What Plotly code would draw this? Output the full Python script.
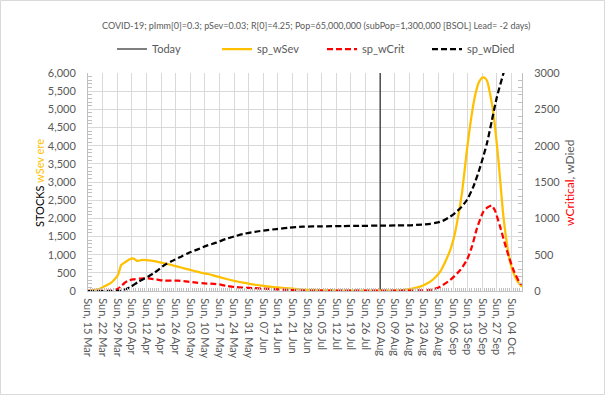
import plotly.graph_objects as go
import pandas as pd

# ---------------- data ----------------
BASE_DATE = "2020-03-15"          # day 0 of the day offsets below
END_DATE = "2020-10-09"
TODAY_DATE = "2020-08-02"
TITLE = ("COVID-19; pImm[0]=0.3; pSev=0.03; R[0]=4.25; Pop=65,000,000 "
         "(subPop=1,300,000 [BSOL] Lead= -2 days)")

# sp_wSev (left axis)
sev_day = [0, 3, 6, 9, 11, 13, 14.4, 15.9, 17.5, 20, 21.5, 22.5, 23.6, 25.5, 28,
           30.3, 33, 36.7, 40, 43, 47, 51, 54, 57.4, 60, 62.2, 66.4, 70, 74.3, 78,
           82.3, 86, 90.3, 94, 98.2, 103, 108, 114, 120, 130, 140, 146, 150, 154,
           157, 159.2, 162, 164, 166.5, 168.8, 171, 173.6, 175.3, 176.8, 179.2,
           181.6, 184, 185.6, 187.1, 188.5, 189.5, 190.5, 191.4, 192.8, 194.3,
           196.7, 199.1, 201.5, 203, 204.7, 206.3, 207.9]
sev_val = [0, 25, 70, 160, 225, 340, 440, 716, 780, 872, 900, 870, 826, 853, 850,
           835, 810, 761, 715, 670, 610, 550, 505, 468, 430, 394, 330, 280, 229, 190,
           156, 125, 101, 80, 64, 40, 28, 18, 12, 8, 8, 12, 25, 50,
           85, 120, 190, 257, 380, 532, 780, 1128, 1450, 1862, 2688,
           3880, 4890, 5400, 5716, 5850, 5880, 5850, 5760, 5400, 4890,
           3605, 2046, 1037, 650, 394, 230, 120]

# sp_wCrit (right axis)
crit_day = [0, 8, 11, 13, 14.4, 16, 17.5, 19.1, 21.5, 25, 28.7, 30.5, 32.7, 36.7,
            43, 47.8, 52, 55.8, 61.4, 64, 66.4, 70, 74.3, 80, 86, 90.3, 95, 101,
            110, 130, 150, 158, 164, 168.8, 173.6, 178.4, 181.6, 184, 186.4, 189.5,
            191.5, 193.5, 195, 197.5, 200.7, 203.9, 207.1, 207.9]
crit_val = [0, 2, 6, 15, 30, 70, 110, 138, 160, 170, 174, 168, 160, 142,
            142, 128, 115, 105, 96, 85, 69, 55, 46, 38, 30, 23, 15, 8,
            5, 4, 4, 8, 14, 60, 151, 289, 427, 610, 862, 1092,
            1150, 1175, 1110, 885, 564, 289, 105, 90]

# sp_wDied (right axis)
died_day = [0, 14, 15.8, 18, 20.7, 24, 28.7, 32, 36.7, 40, 44.6, 48, 52.6, 57,
            61.4, 66, 70, 74.3, 80, 85, 90.3, 96, 103, 112, 122, 130, 140, 148,
            154, 160, 164, 167, 170, 173.6, 176, 178.4, 181.6, 184.7, 188, 191.2,
            193.6, 196, 199.1, 200.5]
died_val = [0, 0, 3, 25, 60, 125, 197, 255, 358, 410, 472, 520, 573, 625,
            665, 715, 750, 784, 815, 835, 853, 870, 885, 890, 894, 897, 899, 902,
            904, 915, 925, 940, 965, 1023, 1075, 1138, 1252, 1436, 1711, 2032,
            2353, 2674, 2995, 3150]

LEFT_MAX, RIGHT_MAX = 6000, 3000

# ---------------- geometry ----------------
W, H = 605, 395
PL, PR, PT, PB = 88, 522, 73, 291   # plot area in pixels


def px(xp):
    return (xp - PL) / (PR - PL)


def py(yp):
    return (PB - yp) / (PB - PT)


base = pd.Timestamp(BASE_DATE)


def to_dates(days):
    return [base + pd.Timedelta(days=d) for d in days]


GREY_TXT = "#595959"
FONT = "Lato"

fig = go.Figure()
fig.add_trace(go.Scatter(x=[TODAY_DATE, TODAY_DATE], y=[0, LEFT_MAX], mode="lines",
                         name="Today", line=dict(color="black", width=1)))
fig.add_trace(go.Scatter(x=to_dates(sev_day), y=sev_val, mode="lines", name="sp_wSev",
                         line=dict(color="#FFC000", width=2.25, shape="spline",
                                   smoothing=0.6)))
fig.add_trace(go.Scatter(x=to_dates(crit_day), y=crit_val, mode="lines", name="sp_wCrit",
                         yaxis="y2",
                         line=dict(color="#FF0000", width=2.25, dash="6px,3px",
                                   shape="spline", smoothing=0.6)))
fig.add_trace(go.Scatter(x=to_dates(died_day), y=died_val, mode="lines", name="sp_wDied",
                         yaxis="y2",
                         line=dict(color="black", width=2.25, dash="6px,3px",
                                   shape="spline", smoothing=0.6)))

axis_font = dict(family=FONT, size=11, color=GREY_TXT)

fig.update_layout(
    width=W, height=H,
    margin=dict(l=PL, r=W - PR, t=PT, b=H - PB, pad=0),
    paper_bgcolor="white", plot_bgcolor="white",
    font=dict(family=FONT, size=11, color=GREY_TXT),
    showlegend=True,
    legend=dict(orientation="h", x=px(322), xanchor="center", y=py(49), yanchor="middle",
                font=dict(family=FONT, size=11, color=GREY_TXT),
                bgcolor="rgba(0,0,0,0)", traceorder="normal", itemwidth=30,
                entrywidth=60, entrywidthmode="pixels"),
    xaxis=dict(type="date", range=[BASE_DATE, END_DATE], tick0=BASE_DATE,
               dtick=7 * 86400000, tickformat="%a, %d %b", tickangle=90,
               tickfont=axis_font, showgrid=True, gridcolor="#D9D9D9", gridwidth=1,
               showline=True, linecolor="#BFBFBF", linewidth=1, ticks="",
               zeroline=False, ticklabelstandoff=4,
               minor=dict(dtick=86400000, ticks="inside", ticklen=3,
                          tickcolor="#BFBFBF", showgrid=False)),
    yaxis=dict(range=[0, LEFT_MAX], dtick=500, tickformat=",", tickfont=axis_font,
               showgrid=True, gridcolor="#D9D9D9", gridwidth=1, showline=True,
               linecolor="#BFBFBF", linewidth=1, ticks="", zeroline=False,
               ticklabelstandoff=9,
               minor=dict(dtick=100, ticks="inside", ticklen=4, tickcolor="#BFBFBF",
                          showgrid=False)),
    yaxis2=dict(range=[0, RIGHT_MAX], dtick=500, tickformat="d", tickfont=axis_font,
                overlaying="y", side="right", showgrid=False, showline=True,
                linecolor="#BFBFBF", linewidth=1, ticks="", zeroline=False,
                ticklabelstandoff=9,
                minor=dict(dtick=100, ticks="inside", ticklen=4, tickcolor="#BFBFBF",
                           showgrid=False)),
    annotations=[
        dict(text=TITLE, xref="paper", yref="paper", x=px(316), y=py(25),
             xanchor="center", yanchor="middle", showarrow=False,
             font=dict(family=FONT, size=9, color=GREY_TXT)),
        dict(text="STOCKS <span style='color:#FFC000'>wSev ere</span>",
             xref="paper", yref="paper", x=px(39), y=py(183), textangle=-90,
             xanchor="center", yanchor="middle", showarrow=False,
             font=dict(family=FONT, size=11, color="black")),
        dict(text="<span style='color:#FF0000'>wCritical</span>, wDied",
             xref="paper", yref="paper", x=px(569), y=py(183), textangle=-90,
             xanchor="center", yanchor="middle", showarrow=False,
             font=dict(family=FONT, size=12, color=GREY_TXT)),
    ],
    shapes=[dict(type="rect", xref="paper", yref="paper",
                 x0=px(0.5), x1=px(604.5), y0=py(394.5), y1=py(0.5),
                 line=dict(color="#D9D9D9", width=1), layer="below")],
)

fig.write_html("out.html",
               config={"displayModeBar": False},
               post_script="document.body.style.margin='0';"
                           "document.body.style.overflow='hidden';")
